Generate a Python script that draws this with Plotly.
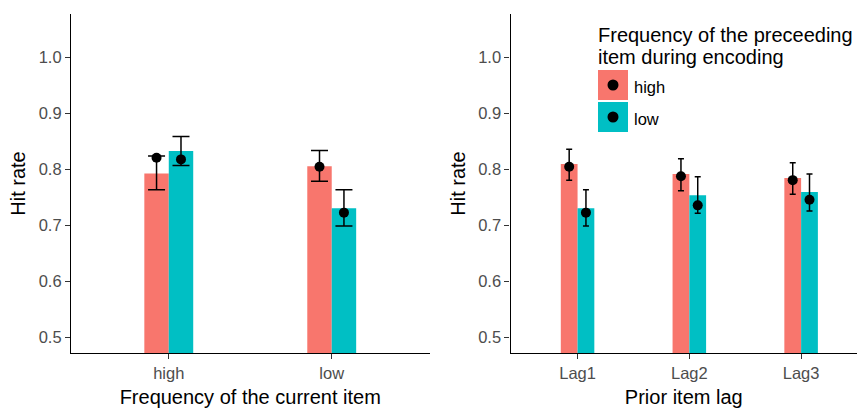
import plotly.graph_objects as go

# ---- data ----
current_items = ["high", "low"]
lags = ["Lag1", "Lag2", "Lag3"]
preceding_levels = ["high", "low"]

# left panel: by frequency of the current item
cur_bar_high = [0.793, 0.806]
cur_bar_low = [0.833, 0.731]
cur_pt_high = [0.821, 0.805]
cur_pt_low = [0.818, 0.723]
cur_ci_hi_high = [0.824, 0.834]
cur_ci_lo_high = [0.764, 0.779]
cur_ci_hi_low = [0.859, 0.764]
cur_ci_lo_low = [0.807, 0.699]

# right panel: by prior item lag
lag_bar_high = [0.810, 0.792, 0.785]
lag_bar_low = [0.731, 0.754, 0.760]
lag_pt_high = [0.805, 0.788, 0.781]
lag_pt_low = [0.723, 0.736, 0.746]
lag_ci_hi_high = [0.836, 0.819, 0.812]
lag_ci_lo_high = [0.781, 0.762, 0.756]
lag_ci_hi_low = [0.764, 0.787, 0.792]
lag_ci_lo_low = [0.699, 0.722, 0.726]

y_ticks = [0.5, 0.6, 0.7, 0.8, 0.9, 1.0]

# ---- styling ----
W, H = 859, 411
COL = {"high": "#F8766D", "low": "#00BFC4"}
FONT = "Liberation Sans, Arial, sans-serif"
TICK_COLOR = "#4D4D4D"
BAR_W = 0.15
DODGE = BAR_W / 2


def px_x(p):
    return p / W


def px_y(p):
    return 1 - p / H


fig = go.Figure()


def add_panel(xa, ya, cats, bars, pts, his, los, cap):
    idx = list(range(len(cats)))
    for level, sign in zip(preceding_levels, (-1, 1)):
        fig.add_trace(go.Bar(
            x=idx, y=bars[level], width=BAR_W,
            offset=-BAR_W if sign < 0 else 0,
            marker=dict(color=COL[level], line=dict(width=0)),
            xaxis=xa, yaxis=ya, hoverinfo="skip", showlegend=False,
        ))
    for level, sign in zip(preceding_levels, (-1, 1)):
        p, hi, lo = pts[level], his[level], los[level]
        fig.add_trace(go.Scatter(
            x=[i + sign * DODGE for i in idx], y=p, mode="markers",
            marker=dict(color="black", size=10),
            error_y=dict(type="data", symmetric=False,
                         array=[h - v for h, v in zip(hi, p)],
                         arrayminus=[v - l for l, v in zip(lo, p)],
                         color="black", thickness=1.5, width=cap),
            xaxis=xa, yaxis=ya, hoverinfo="skip", showlegend=False,
        ))


add_panel("x", "y", current_items,
          {"high": cur_bar_high, "low": cur_bar_low},
          {"high": cur_pt_high, "low": cur_pt_low},
          {"high": cur_ci_hi_high, "low": cur_ci_hi_low},
          {"high": cur_ci_lo_high, "low": cur_ci_lo_low}, 8.5)
add_panel("x2", "y2", lags,
          {"high": lag_bar_high, "low": lag_bar_low},
          {"high": lag_pt_high, "low": lag_pt_low},
          {"high": lag_ci_hi_high, "low": lag_ci_hi_low},
          {"high": lag_ci_lo_high, "low": lag_ci_lo_low}, 3)

y_dom = [px_y(353), px_y(14)]
axis_common = dict(
    showline=True, linecolor="black", linewidth=1.2, mirror=False,
    ticks="outside", ticklen=5, tickwidth=1, tickcolor="#333333",
    showgrid=False, zeroline=False, automargin=False,
    tickfont=dict(family=FONT, size=16.5, color=TICK_COLOR),
)
title_font = dict(family=FONT, size=20, color="black")

fig.update_layout(
    width=W, height=H,
    margin=dict(l=0, r=0, t=0, b=0),
    plot_bgcolor="white", paper_bgcolor="white",
    showlegend=False,
    font=dict(family=FONT),
    xaxis=dict(axis_common, domain=[px_x(71), px_x(429.5)], range=[-0.6, 1.6],
               tickvals=list(range(len(current_items))), ticktext=current_items,
               anchor="y",
               title=dict(text="Frequency of the current item", font=title_font, standoff=9)),
    yaxis=dict(axis_common, domain=y_dom, range=[0.4725, 1.0775],
               tickvals=y_ticks, tickformat=".1f", anchor="x",
               title=dict(text="Hit rate", font=title_font, standoff=7)),
    xaxis2=dict(axis_common, domain=[px_x(510.5), px_x(857)], range=[-0.6, 2.5],
                tickvals=list(range(len(lags))), ticktext=lags,
                anchor="y2",
                title=dict(text="Prior item lag", font=title_font, standoff=9)),
    yaxis2=dict(axis_common, domain=y_dom, range=[0.4725, 1.0775],
                tickvals=y_ticks, tickformat=".1f", anchor="x2",
                title=dict(text="Hit rate", font=title_font, standoff=7)),
)

# ---- legend for the preceding item's frequency ----
shapes = []
annotations = []
for line, yc in zip(["Frequency of the preceeding", "item during encoding"], [35, 57]):
    annotations.append(dict(
        text=line, xref="paper", yref="paper", x=px_x(596), y=px_y(yc),
        xanchor="left", yanchor="middle", align="left", showarrow=False,
        font=dict(family=FONT, size=20, color="black"),
    ))
key_tops = [70, 102]
for level, top in zip(preceding_levels, key_tops):
    shapes.append(dict(type="rect", xref="paper", yref="paper",
                       x0=px_x(598), x1=px_x(628), y0=px_y(top + 30), y1=px_y(top),
                       fillcolor=COL[level], line=dict(width=0)))
    shapes.append(dict(type="circle", xref="paper", yref="paper",
                       xsizemode="pixel", ysizemode="pixel",
                       xanchor=px_x(613), yanchor=px_y(top + 15),
                       x0=-5.5, x1=5.5, y0=-5.5, y1=5.5,
                       fillcolor="black", line=dict(width=0)))
    annotations.append(dict(
        text=level, xref="paper", yref="paper", x=px_x(632), y=px_y(top + 17),
        xanchor="left", yanchor="middle", showarrow=False,
        font=dict(family=FONT, size=16.5, color="black"),
    ))
fig.update_layout(shapes=shapes, annotations=annotations)

fig.write_html("out.html")
